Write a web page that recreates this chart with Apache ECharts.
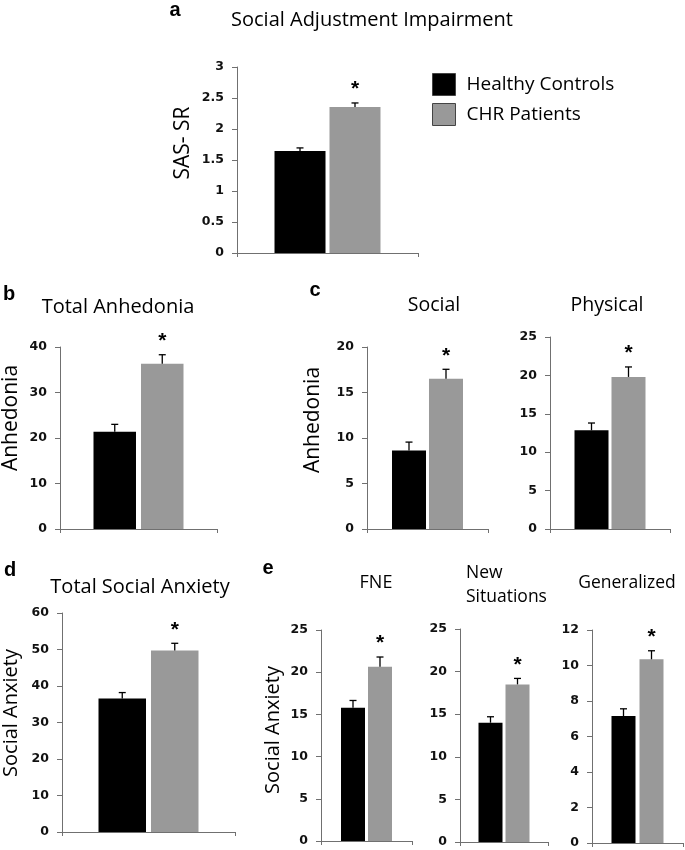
<!DOCTYPE html>
<html>
<head>
<meta charset="utf-8">
<script src="https://cdn.jsdelivr.net/npm/echarts@6/dist/echarts.min.js"></script>
<style>html,body{margin:0;padding:0;background:#fff}#c{width:685px;height:850px}</style>
</head>
<body>
<div id="c"></div>
<script>
// ---- data ----
const groups = ["Healthy Controls", "CHR Patients"];
const panelTitles = ["Social Adjustment Impairment", "Total Anhedonia", "Social", "Physical", "Total Social Anxiety", "FNE", "New\nSituations", "Generalized"];
const healthyMeans = [1.645, 21.4, 8.63, 12.85, 36.6, 15.8, 14.0, 7.15];
const healthyErr   = [0.05, 1.6, 0.92, 0.95, 1.6, 0.85, 0.7, 0.41];
const chrMeans     = [2.355, 36.3, 16.5, 19.8, 49.7, 20.65, 18.5, 10.35];
const chrErr       = [0.065, 2.0, 1.05, 1.3, 2.0, 1.15, 0.7, 0.48];
const axisMax      = [3, 40, 20, 25, 60, 25, 25, 12];
const axisStep     = [0.5, 10, 5, 5, 10, 5, 5, 2];
const significant  = [true, true, true, true, true, true, true, true];

// ---- layout (styles only) ----
const L = [
  {left:237, top:67,  width:181, height:186, bw:51, gap:4},
  {left:60,  top:347, width:157, height:182, bw:42.5, gap:5},
  {left:367, top:347, width:121, height:182, bw:34, gap:3},
  {left:550, top:337, width:120, height:192, bw:34, gap:3},
  {left:62,  top:613, width:173, height:219, bw:47.5, gap:5},
  {left:321, top:630, width:91,  height:211, bw:24, gap:3},
  {left:460, top:629, width:88,  height:213, bw:24, gap:3},
  {left:592, top:630, width:91,  height:213, bw:24, gap:4}
];
const BLACK = '#000000', GRAY = '#999999', AXIS = '#707070';
const titleFont = '"Open Sans", sans-serif';

const grids = [], xAxes = [], yAxes = [], series = [];
L.forEach((g, i) => {
  grids.push({left:g.left, top:g.top, width:g.width, height:g.height, containLabel:false});
  xAxes.push({type:'category', gridIndex:i, data:[''],
    axisLine:{lineStyle:{color:AXIS, width:1}},
    axisTick:{show:true, length:4, lineStyle:{color:AXIS}},
    axisLabel:{show:false}, splitLine:{show:false}});
  yAxes.push({type:'value', gridIndex:i, min:0, max:axisMax[i], interval:axisStep[i],
    axisLine:{show:true, lineStyle:{color:AXIS, width:1}},
    axisTick:{show:true, length:5, lineStyle:{color:AXIS}},
    axisLabel:{color:'#111', fontFamily:'"DejaVu Sans", Verdana, sans-serif', fontWeight:'bold', fontSize:12.5, margin:13},
    splitLine:{show:false}});
  const gapPct = (g.gap / g.bw * 100).toFixed(1) + '%';
  series.push({type:'bar', name:groups[0], xAxisIndex:i, yAxisIndex:i, data:[healthyMeans[i]],
    barWidth:g.bw, barGap:gapPct, itemStyle:{color:BLACK}, silent:true});
  series.push({type:'bar', name:groups[1], xAxisIndex:i, yAxisIndex:i, data:[chrMeans[i]],
    barWidth:g.bw, barGap:gapPct, itemStyle:{color:GRAY}, silent:true});
  series.push({type:'custom', xAxisIndex:i, yAxisIndex:i, silent:true, z:5,
    data:[[0, healthyMeans[i], healthyErr[i], -1], [0, chrMeans[i], chrErr[i], 1]],
    renderItem:(params, api) => {
      const v = api.value(1), e = api.value(2), side = api.value(3);
      const base = api.coord([0, v]);
      const top = api.coord([0, v + e]);
      const x = base[0] + side * (g.bw + g.gap) / 2;
      const cap = 7;
      const children = [
        {type:'line', shape:{x1:x, y1:base[1], x2:x, y2:top[1]}, style:{stroke:'#000', lineWidth:1.3}},
        {type:'line', shape:{x1:x - cap/2, y1:top[1], x2:x + cap/2, y2:top[1]}, style:{stroke:'#000', lineWidth:1.3}}
      ];
      if (side > 0 && significant[i]) {
        children.push({type:'text', x:x, y:top[1] - 3,
          style:{text:'*', fill:'#000', font:'bold 21px "Liberation Sans", Arial, sans-serif', textAlign:'center', textVerticalAlign:'bottom'}});
      }
      return {type:'group', children};
    }});
});

const txt = (text, x, y, font, opts) => Object.assign({type:'text', x, y,
  style:{text, font, fill:'#000', textAlign:'center', textVerticalAlign:'middle'}}, opts || {});
const graphics = [
  txt('a', 175, 10, 'bold 20px "Liberation Sans", Arial, sans-serif'),
  txt('b', 9, 294, 'bold 20px "Liberation Sans", Arial, sans-serif'),
  txt('c', 315, 290, 'bold 20px "Liberation Sans", Arial, sans-serif'),
  txt('d', 10, 570, 'bold 20px "Liberation Sans", Arial, sans-serif'),
  txt('e', 268, 568, 'bold 20px "Liberation Sans", Arial, sans-serif'),
  txt(panelTitles[0], 372, 20, '20px ' + titleFont),
  txt(panelTitles[1], 118, 307, '20px ' + titleFont),
  txt(panelTitles[2], 434, 305, '19.5px ' + titleFont),
  txt(panelTitles[3], 607, 305, '19.5px ' + titleFont),
  txt(panelTitles[4], 140, 587, '20px ' + titleFont),
  txt(panelTitles[5], 376, 583, '18px ' + titleFont),
  {type:'text', x:466, y:585, style:{text:panelTitles[6], font:'17.5px ' + titleFont, fill:'#000', textAlign:'left', textVerticalAlign:'middle', lineHeight:24}},
  txt(panelTitles[7], 627, 583, '17.5px ' + titleFont),
  txt('SAS- SR', 183, 143, '21px ' + titleFont, {rotation:Math.PI/2}),
  txt('Anhedonia', 11, 418, '21px ' + titleFont, {rotation:Math.PI/2}),
  txt('Anhedonia', 313, 420, '21px ' + titleFont, {rotation:Math.PI/2}),
  txt('Social Anxiety', 11, 713, '20px ' + titleFont, {rotation:Math.PI/2}),
  txt('Social Anxiety', 273, 730, '20px ' + titleFont, {rotation:Math.PI/2})
];

const chart = echarts.init(document.getElementById('c'), null, {renderer:'canvas'});
chart.setOption({
  animation:false,
  backgroundColor:'#ffffff',
  grid:grids, xAxis:xAxes, yAxis:yAxes, series,
  legend:{show:true, orient:'vertical', left:427, top:68, icon:'rect', itemWidth:23, itemHeight:22, itemGap:7,
    data:groups, selectedMode:false,
    itemStyle:{borderColor:'#444', borderWidth:1},
    textStyle:{fontFamily:'"Open Sans", sans-serif', fontSize:19, color:'#000', padding:[0,0,0,6]}},
  graphic:graphics
});
</script>
</body>
</html>
